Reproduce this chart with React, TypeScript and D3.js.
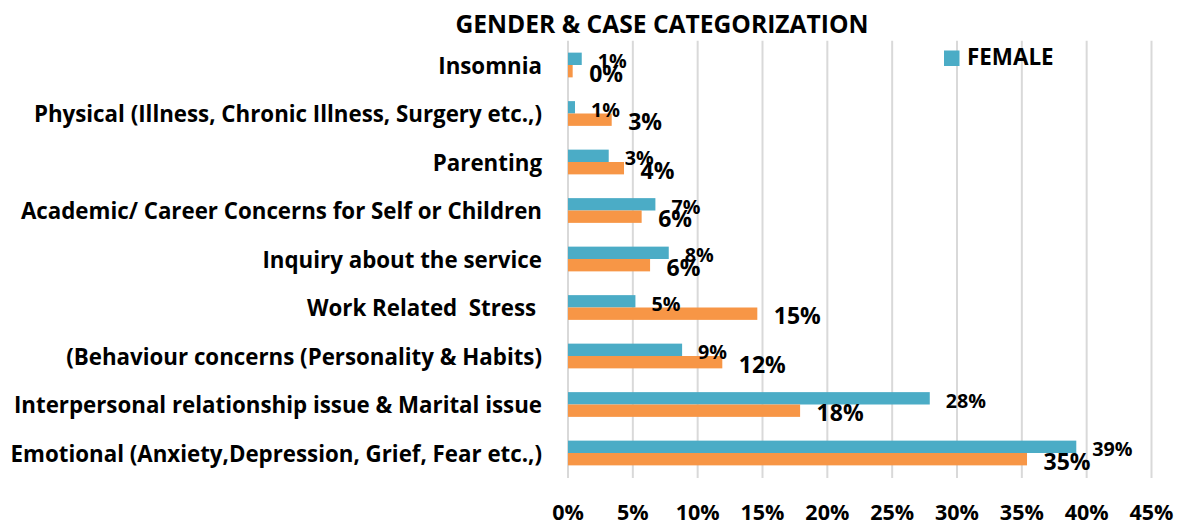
import React from "react";
import * as d3 from "d3";

const categories = [
  "Insomnia",
  "Physical (Illness, Chronic Illness, Surgery etc.,)",
  "Parenting",
  "Academic/ Career Concerns for Self or Children",
  "Inquiry about the service",
  "Work Related  Stress ",
  "(Behaviour concerns (Personality & Habits)",
  "Interpersonal relationship issue & Marital issue",
  "Emotional (Anxiety,Depression, Grief, Fear etc.,)",
];
const femaleValues = [0.0106, 0.0054, 0.0314, 0.0674, 0.0777, 0.052, 0.088, 0.279, 0.392];
const maleValues = [0.0036, 0.0337, 0.0432, 0.0568, 0.0633, 0.146, 0.119, 0.179, 0.354];
const xTicks = [0, 0.05, 0.1, 0.15, 0.2, 0.25, 0.3, 0.35, 0.4, 0.45];
const title = "GENDER & CASE CATEGORIZATION";
const legendLabel = "FEMALE";

const W = 1183;
const H = 524;
const FONT = "'Open Sans', Lato, sans-serif";
const TEAL = "#4BACC6";
const ORANGE = "#F79646";
const GRID = "#D9D9D9";

export default function App() {
  const x = d3.scaleLinear().domain([0, 0.45]).range([568, 1151.5]);
  const y = d3
    .scaleBand<string>()
    .domain(categories)
    .range([40.75, 477.25])
    .paddingInner(0.49)
    .paddingOuter(0.245);
  const bw = y.bandwidth() / 2;
  const fmt = d3.format(".0%");

  return (
    <svg
      width={W}
      height={H}
      style={{ position: "absolute", left: 0, top: 0, background: "#fff" }}
      fontFamily={FONT}
      fontWeight="bold"
    >
      <rect width={W} height={H} fill="#fff" />
      <text x={662} y={33} textAnchor="middle" fontSize={24.6} fill="#000">
        {title}
      </text>
      {xTicks.map((t) => (
        <g key={t}>
          <line x1={x(t)} x2={x(t)} y1={40.75} y2={478} stroke={GRID} strokeWidth={2} />
          <text x={x(t)} y={519.5} textAnchor="middle" fontSize={21.5} fill="#000">
            {fmt(t)}
          </text>
        </g>
      ))}
      {categories.map((c, i) => {
        const y0 = y(c)!;
        return (
          <g key={c}>
            <text
              x={542}
              y={y0 + bw}
              textAnchor="end"
              dominantBaseline="central"
              fontSize={22.3}
              fill="#000"
              style={{ whiteSpace: "pre" }}
            >
              {c}
            </text>
            <rect x={x(0)} y={y0} width={x(femaleValues[i]) - x(0)} height={bw} fill={TEAL} />
            <rect x={x(0)} y={y0 + bw} width={x(maleValues[i]) - x(0)} height={bw} fill={ORANGE} />
            <text
              x={x(femaleValues[i]) + 16}
              y={y0 + bw / 2 + 2}
              dominantBaseline="central"
              fontSize={19.7}
              fill="#000"
            >
              {fmt(femaleValues[i])}
            </text>
            <text
              x={x(maleValues[i]) + 16.5}
              y={y0 + bw * 1.5 + 1.5}
              dominantBaseline="central"
              fontSize={23}
              fill="#000"
            >
              {fmt(maleValues[i])}
            </text>
          </g>
        );
      })}
      <rect x={944} y={50.5} width={15.5} height={15.5} fill={TEAL} />
      <text x={967} y={65} fontSize={22.4} fill="#000">
        {legendLabel}
      </text>
    </svg>
  );
}
